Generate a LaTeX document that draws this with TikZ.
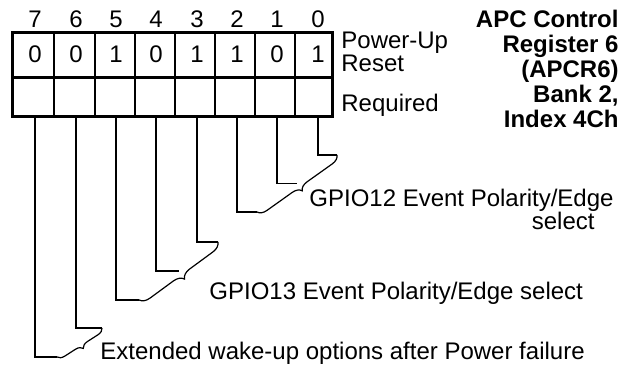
\documentclass[tikz,border=0pt]{standalone}
\usepackage{fontspec}
\setmainfont{Liberation Sans}
\usetikzlibrary{calc, decorations.pathreplacing}

\begin{document}
\begin{tikzpicture}[x=0.5pt, y=-0.5pt, font=\fontsize{12}{12.5}\selectfont,
    frame/.style={line width=1.5pt},
    divider/.style={line width=0.6pt},
    lead/.style={line width=0.6pt},
    bracket/.style={line width=0.6pt, decorate, decoration={brace, amplitude=#1}},
    bitno/.style={anchor=base, inner sep=0pt},
    note/.style={anchor=base west, inner sep=0pt, align=left},
    regname/.style={anchor=base east, inner sep=0pt, align=right, font=\fontsize{12}{12.5}\selectfont\bfseries}]
  \useasboundingbox (0,0) rectangle (633,367);
  % register cells
  \foreach \x in {54,95,135,175,215,255,295}
    \draw[divider] (\x,32.5) -- (\x,116.5);
  \draw[frame] (12.5,32.5) rectangle (332.5,116.5);
  \draw[frame] (12.5,77.5) -- (332.5,77.5);
  \foreach \x/\b/\v in {35/7/0,76/6/0,116/5/1,156/4/0,197/3/1,237/2/1,277/1/0,318/0/1} {
    \node[bitno] (n\b) at (\x,28) {\b};
    \node[bitno] (v\b) at (\x,63) {\v};
    \coordinate (t\b) at (\x,116.5);
  }
  % labels on the right (base = last line)
  \node[note, font=\fontsize{12}{10}\selectfont] (pur) at (341,72) {Power-Up\\Reset};
  \node[note] (req) at (341,112) {Required};
  \node[regname] (reg) at (619,128) {APC Control\\Register 6\\(APCR6)\\Bank 2,\\Index 4Ch};
  % stub ends
  \coordinate (s0) at (337,155);
  \coordinate (s2) at (257,212);
  \coordinate (s3) at (218,242);
  \coordinate (s5) at (139,300);
  \coordinate (s6) at (102,328);
  \coordinate (s7) at (57,357);
  \coordinate (m1) at ($(s0)!0.5!(s2)$);
  \coordinate (m4) at ($(s3)!0.5!(s5)$);
  \draw[lead] (t0) |- (s0);
  \draw[lead] (t1) |- (m1);
  \draw[lead] (t2) |- (s2);
  \draw[lead] (t3) |- (s3);
  \draw[lead] (t4) |- (m4);
  \draw[lead] (t5) |- (s5);
  \draw[lead] (t6) |- (s6);
  \draw[lead] (t7) |- (s7);
  % braces
  \draw[bracket=4.5pt] (s0) -- (s2);
  \draw[bracket=5pt] (s3) -- (s5);
  \draw[bracket=3.5pt] (s6) -- (s7);
  \node[note, align=right, font=\fontsize{12}{11.5}\selectfont] (g12) at (309,230) {GPIO12 Event Polarity/Edge\\select\hspace*{9.5pt}};
  \node[note] (g13) at (209,300) {GPIO13 Event Polarity/Edge select};
  \node[note] (ext) at (100,360) {Extended wake-up options after Power failure};
\end{tikzpicture}
\end{document}
